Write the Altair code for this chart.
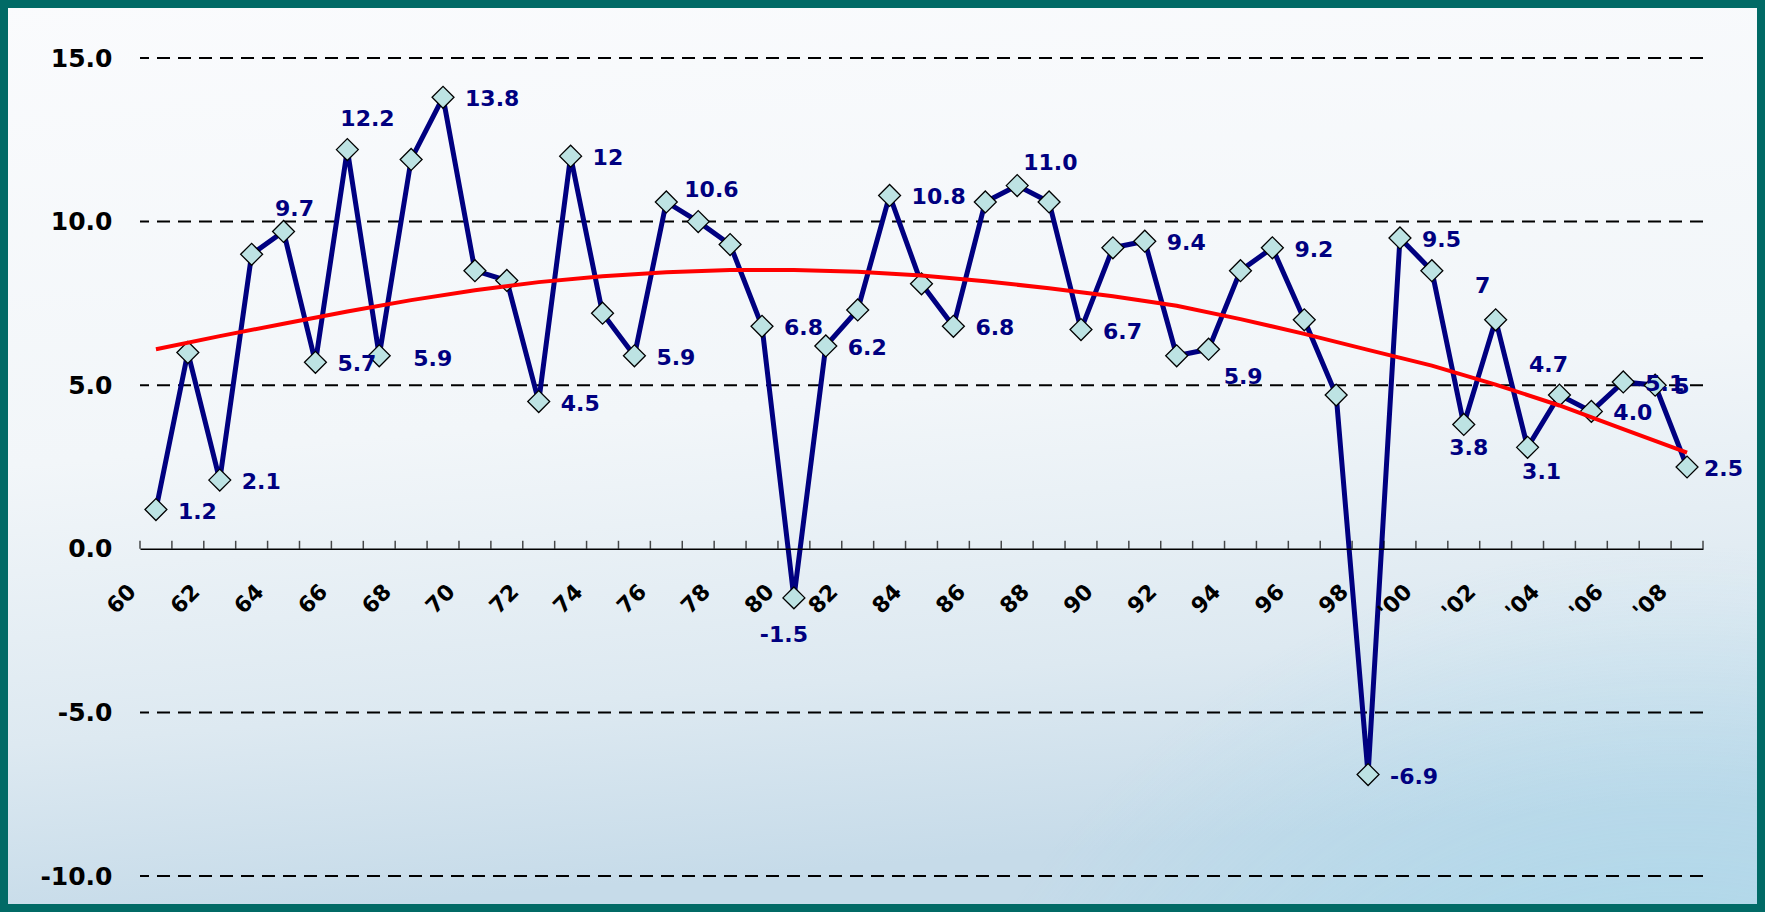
import json
import altair as alt
import pandas as pd

# ---------------- data ----------------
years = list(range(1960, 2009))
growth = [1.2, 6.0, 2.1, 9.0, 9.7, 5.7, 12.2, 5.9, 11.9, 13.8,
          8.5, 8.2, 4.5, 12.0, 7.2, 5.9, 10.6, 10.0, 9.3, 6.8,
          -1.5, 6.2, 7.3, 10.8, 8.1, 6.8, 10.6, 11.1, 10.6, 6.7,
          9.2, 9.4, 5.9, 6.1, 8.5, 9.2, 7.0, 4.7, -6.9, 9.5,
          8.5, 3.8, 7.0, 3.1, 4.7, 4.2, 5.1, 5.0, 2.5]
point_labels = ["1.2", "", "2.1", "", "9.7", "5.7", "12.2", "5.9", "", "13.8",
                "", "", "4.5", "12", "", "5.9", "10.6", "", "", "6.8",
                "-1.5", "6.2", "", "10.8", "", "6.8", "", "11.0", "", "6.7",
                "", "9.4", "5.9", "", "", "9.2", "", "", "-6.9", "9.5",
                "", "3.8", "7", "3.1", "4.7", "4.0", "5.1", "5", "2.5"]

trend_years = list(range(1960, 2009, 2))
trend_values = [6.10, 6.50, 6.88, 7.25, 7.60, 7.90, 8.15, 8.33, 8.45, 8.52,
                8.52, 8.47, 8.35, 8.18, 7.96, 7.72, 7.43, 7.02, 6.57, 6.08,
                5.60, 5.02, 4.38, 3.66, 2.94]

x_tick_years = list(range(1960, 2009, 2))
x_tick_labels = ["60", "62", "64", "66", "68", "70", "72", "74", "76", "78",
                 "80", "82", "84", "86", "88", "90", "92", "94", "96", "98",
                 "'00", "'02", "'04", "'06", "'08"]
y_ticks = [-10, -5, 0, 5, 10, 15]
y_tick_labels = ["-10.0", "-5.0", "0.0", "5.0", "10.0", "15.0"]
grid_values = [-10, -5, 5, 10, 15]

# ---------------- styles ----------------
W, H = 1563, 818
PAD = {"left": 140, "top": 58, "right": 62, "bottom": 36}
NAVY = "#000080"
FONT = "DejaVu Sans"

default_place = ("left", 22, 2)
place_override = {
    1964: ("center", 11, -22),
    1966: ("left", -7, -31),
    1967: ("left", 34, 3),
    1976: ("left", 18, -12),
    1980: ("center", -10, 37),
    1987: ("left", 6, -23),
    1992: ("left", 47, 21),
    2001: ("center", 5, 24),
    2002: ("center", -13, -34),
    2003: ("center", 14, 25),
    2004: ("center", -11, -30),
    2007: ("left", 19, 2),
    2008: ("left", 17, 2),
}

xscale = alt.Scale(domain=[1959.5, 2008.5], nice=False, zero=False)
yscale = alt.Scale(domain=[-10, 15], nice=False, zero=False)

x_axis = alt.Axis(
    values=x_tick_years,
    labelExpr=f"{json.dumps(x_tick_labels)}[round((datum.value - 1960) / 2)]",
    labelAngle=-45, labelAlign="right", labelBaseline="middle",
    labelFont=FONT, labelFontWeight="bold", labelFontSize=22, labelColor="black",
    labelOffset=-24, labelPadding=39, labelOverlap=False, labelBound=False,
    ticks=False, tickSize=0, domain=True, domainColor="black", domainWidth=1.5,
    grid=False, title=None, offset=-(H - 490.8), zindex=1,
)
y_axis = alt.Axis(
    values=y_ticks,
    labelExpr=f"{json.dumps(y_tick_labels)}[round((datum.value + 10) / 5)]",
    labelFont=FONT, labelFontWeight="bold", labelFontSize=25, labelColor="black",
    labelPadding=28, ticks=False, tickSize=0, domain=False, grid=False,
    title=None, zindex=1,
)


def X(field):
    return alt.X(field, type="quantitative", scale=xscale, axis=x_axis)


def Y(field):
    return alt.Y(field, type="quantitative", scale=yscale, axis=y_axis)


df = pd.DataFrame({"year": years, "growth": growth, "label": point_labels})
df_trend = pd.DataFrame({"year": trend_years, "trend": trend_values})
df_grid = pd.DataFrame({"v": grid_values})
df_ticks = pd.DataFrame({"b": [y - 0.5 for y in years] + [years[-1] + 0.5]})
one = pd.DataFrame({"a": [0]})

bg_grad = alt.LinearGradient(
    gradient="linear",
    stops=[alt.GradientStop(offset=0, color="#fafbfd"),
           alt.GradientStop(offset=0.5, color="#f2f6f9"),
           alt.GradientStop(offset=0.8, color="#dde9f1"),
           alt.GradientStop(offset=1, color="#c6dbe9")],
    x1=0, x2=0.15, y1=0, y2=1,
)
glow = alt.RadialGradient(
    gradient="radial",
    stops=[alt.GradientStop(offset=0, color="rgba(140,210,235,0.75)"),
           alt.GradientStop(offset=1, color="rgba(140,210,235,0)")],
    x1=0.95, y1=1.0, r1=0, x2=0.95, y2=1.0, r2=0.45,
)

full = dict(x=alt.value(-PAD["left"]), x2=alt.value(W + PAD["right"]),
            y=alt.value(-PAD["top"]), y2=alt.value(H + PAD["bottom"]))

bg = alt.Chart(one).mark_rect(color=bg_grad).encode(**full)
bg2 = alt.Chart(one).mark_rect(color=glow).encode(**full)

grid = alt.Chart(df_grid).mark_rule(
    color="black", strokeWidth=2, strokeDash=[13, 8]
).encode(y=Y("v"))

ticks = alt.Chart(df_ticks).mark_tick(
    orient="vertical", size=8, thickness=1.5, color="black", yOffset=-4
).encode(x=X("b"), y=alt.datum(0))

line = alt.Chart(df).mark_line(color=NAVY, strokeWidth=5).encode(
    x=X("year"), y=Y("growth"))

points = alt.Chart(df).mark_point(
    shape="diamond", filled=True, fill="#bde3e3", stroke="black",
    strokeWidth=1.3, size=480, opacity=1
).encode(x=X("year"), y=Y("growth"))

trend = alt.Chart(df_trend).mark_line(color="#ff0000", strokeWidth=4).encode(
    x=X("year"), y=Y("trend"))

# label layers grouped by placement
groups = {}
for yr, lab in zip(years, point_labels):
    if lab:
        groups.setdefault(place_override.get(yr, default_place), []).append(yr)

text_layers = []
for (align, dx, dy), yrs in groups.items():
    sub = df[df["year"].isin(yrs)]
    text_layers.append(
        alt.Chart(sub).mark_text(
            align=align, baseline="middle", dx=dx, dy=dy, font=FONT,
            fontWeight="bold", fontSize=22, color=NAVY
        ).encode(x=X("year"), y=Y("growth"), text="label:N")
    )

frame = alt.Chart(one).mark_rect(
    fill="#ffffff", fillOpacity=0, stroke="#016a66", strokeWidth=8
).encode(x=alt.value(-PAD["left"] + 4), x2=alt.value(W + PAD["right"] - 4),
         y=alt.value(-PAD["top"] + 4), y2=alt.value(H + PAD["bottom"] - 4))

chart = alt.layer(
    bg, bg2, grid, line, points, trend, *text_layers, ticks, frame
).properties(
    width=W, height=H, padding=PAD,
    autosize=alt.AutoSizeParams(type="none"),
    background="#ffffff",
).configure_view(strokeWidth=0)

chart.save("out.html", embed_options={"renderer": "svg", "actions": False})
